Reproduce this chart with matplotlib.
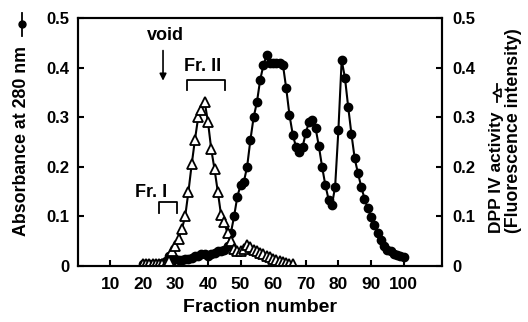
import matplotlib
matplotlib.use("Agg")
import matplotlib.pyplot as plt
from matplotlib.lines import Line2D

plt.rcParams['font.family'] = ['Liberation Sans', 'DejaVu Sans']
plt.rcParams['font.weight'] = 'bold'

abs_fractions = list(range(20, 101))
absorbance = [0.003, 0.003, 0.003, 0.003, 0.003, 0.003, 0.005, 0.010, 0.020, 0.020,
              0.015, 0.013, 0.013, 0.015, 0.015, 0.017, 0.020, 0.020, 0.025, 0.025,
              0.020, 0.025, 0.027, 0.030, 0.030, 0.033, 0.040, 0.066, 0.100, 0.140,
              0.163, 0.170, 0.200, 0.254, 0.300, 0.330, 0.375, 0.405, 0.425, 0.409,
              0.410, 0.410, 0.409, 0.405, 0.358, 0.304, 0.265, 0.240, 0.230, 0.240,
              0.268, 0.291, 0.294, 0.278, 0.242, 0.200, 0.163, 0.134, 0.122, 0.160,
              0.274, 0.415, 0.380, 0.321, 0.266, 0.217, 0.187, 0.160, 0.136, 0.116,
              0.099, 0.083, 0.067, 0.052, 0.040, 0.033, 0.030, 0.025, 0.022, 0.020,
              0.018]

dpp_fractions = list(range(20, 67))
dpp_activity = [0.003, 0.003, 0.003, 0.003, 0.003, 0.003, 0.003, 0.003, 0.010, 0.030,
                0.040, 0.055, 0.075, 0.100, 0.150, 0.205, 0.255, 0.300, 0.315, 0.330,
                0.290, 0.235, 0.195, 0.150, 0.103, 0.088, 0.066, 0.050, 0.035, 0.030,
                0.030, 0.035, 0.042, 0.038, 0.033, 0.030, 0.027, 0.024, 0.021, 0.018,
                0.015, 0.012, 0.010, 0.008, 0.006, 0.004, 0.003]

x_ticks = [10, 20, 30, 40, 50, 60, 70, 80, 90, 100]
y_ticks = [0, 0.1, 0.2, 0.3, 0.4, 0.5]
y_tick_labels = ['0', '0.1', '0.2', '0.3', '0.4', '0.5']

W, H = 528, 322
fig = plt.figure(figsize=(W / 100, H / 100), dpi=100)
ax = fig.add_axes([0.147, 0.174, 0.6896, 0.770])
ax2 = ax.twinx()

ax.plot(abs_fractions, absorbance, '-', color='black', lw=1.5, marker='o',
        ms=6, mfc='black', mec='black', zorder=3)
ax.plot(dpp_fractions, dpp_activity, '-', color='black', lw=1.5, marker='^',
        ms=6.5, mfc='white', mec='black', mew=1.3, zorder=4)

ax.set_xlim(0, 111.7)
ax.set_ylim(0, 0.5)
ax2.set_ylim(0, 0.5)
ax.set_xticks(x_ticks)
ax.set_xticklabels([str(t) for t in x_ticks])
ax.set_yticks(y_ticks)
ax.set_yticklabels(y_tick_labels)
ax2.set_yticks(y_ticks)
ax2.set_yticklabels(y_tick_labels)

for a in (ax, ax2):
    for s in a.spines.values():
        s.set_linewidth(1.5)
ax.tick_params(axis='x', direction='in', length=4, width=1.5, labelsize=12.5, pad=8)
ax.tick_params(axis='y', direction='in', length=4, width=1.5, labelsize=12, pad=6)
ax2.tick_params(axis='y', direction='in', length=4, width=1.5, labelsize=12, pad=8)
for lbl in ax.get_xticklabels() + ax.get_yticklabels() + ax2.get_yticklabels():
    lbl.set_fontweight('bold')

ax.set_xlabel('Fraction number', fontsize=14, fontweight='bold', labelpad=5)


def fx(px):
    return px / W


def fy(py):
    return 1 - py / H


# left axis label with marker key
fig.text(fx(21.5), fy(236), 'Absorbance at 280 nm', rotation=90,
         ha='center', va='bottom', fontsize=12.8, fontweight='bold')
fig.add_artist(Line2D([fx(21.5), fx(21.5)], [fy(36), fy(13)], color='black', lw=1.3,
                      transform=fig.transFigure))
fig.add_artist(Line2D([fx(21.5)], [fy(24)], color='black', marker='o', ms=5,
                      transform=fig.transFigure))

# right axis label with marker key
fig.text(fx(496.5), fy(233), 'DPP IV activity', rotation=90,
         ha='center', va='bottom', fontsize=12.5, fontweight='bold')
fig.text(fx(513), fy(233), '(Fluorescence intensity)', rotation=90,
         ha='center', va='bottom', fontsize=12.8, fontweight='bold')
fig.add_artist(Line2D([fx(496.5), fx(496.5)], [fy(102), fy(84)], color='black', lw=1.3,
                      transform=fig.transFigure))
fig.add_artist(Line2D([fx(496.5)], [fy(93)], color='black', marker='<', ms=5.5,
                      mfc='white', mec='black', mew=1.2, transform=fig.transFigure))

# annotations
ax.text(26.8, 0.465, 'void', ha='center', va='center', fontsize=13, fontweight='bold')
ax.annotate('', xy=(26.2, 0.368), xytext=(26.2, 0.44),
            arrowprops=dict(arrowstyle='-|>', color='black', lw=1.2, mutation_scale=10))
ax.text(38.3, 0.402, 'Fr. II', ha='center', va='center', fontsize=13, fontweight='bold')
ax.plot([33.5, 33.5, 45.2, 45.2], [0.355, 0.375, 0.375, 0.355], color='black', lw=1.3)
ax.text(22.6, 0.149, 'Fr. I', ha='center', va='center', fontsize=13, fontweight='bold')
ax.plot([25.1, 25.1, 30.6, 30.6], [0.107, 0.128, 0.128, 0.107], color='black', lw=1.3)

fig.savefig('out.png', dpi=100)
